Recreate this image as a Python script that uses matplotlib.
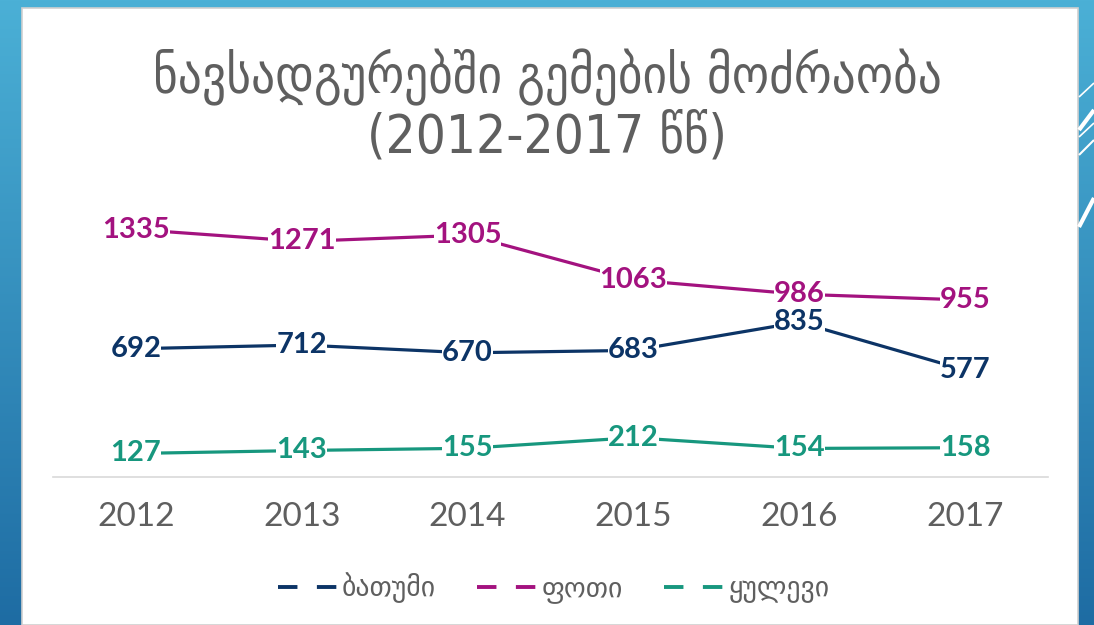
import numpy as np
import matplotlib
matplotlib.use("Agg")
import matplotlib.pyplot as plt
from matplotlib.lines import Line2D
from matplotlib.patches import Rectangle

years = ["2012", "2013", "2014", "2015", "2016", "2017"]
batumi = [692, 712, 670, 683, 835, 577]
poti = [1335, 1271, 1305, 1063, 986, 955]
kulevi = [127, 143, 155, 212, 154, 158]
series_names = ["ბათუმი", "ფოთი", "ყულევი"]
colors = ["#0c3466", "#a3127f", "#17977e"]
title = "ნავსადგურებში გემების მოძრაობა\n(2012-2017 წწ)"

W, H = 1094, 625
fig = plt.figure(figsize=(W / 100, H / 100), dpi=100)

# blue background with gradient
bg = fig.add_axes([0, 0, 1, 1], zorder=0)
grad = np.linspace(0, 1, 256).reshape(-1, 1)
top = np.array([0x4b, 0xb0, 0xd6]) / 255
bot = np.array([0x1e, 0x6c, 0xa3]) / 255
img = top + (bot - top) * grad[:, :, None]
bg.imshow(img, extent=[0, W, 0, H], aspect="auto", origin="upper")
bg.add_patch(Rectangle((22, 0), 1078 - 22, H - 8, fc="white", ec="#d0d0d0", lw=1.2))
for (y0, y1, lw) in [(97, 83, 1.2), (130, 110, 3), (137, 123, 1.2), (155, 140, 1.5), (227, 198, 3)]:
    bg.plot([1079, 1094], [H - y0, H - y1], color="white", lw=lw, solid_capstyle="butt")
bg.set_xlim(0, W)
bg.set_ylim(0, H)
bg.axis("off")

# plot area
ax = fig.add_axes([53 / W, 148 / H, 995 / W, 296.6 / H], zorder=1)
ax.patch.set_alpha(0)
x = np.arange(len(years))
for vals, c in zip([batumi, poti, kulevi], colors):
    ax.plot(x, vals, color=c, lw=2.3, zorder=2)
    for xi, v in zip(x, vals):
        ax.text(xi, v, str(v), ha="center", va="center", color=c,
                fontsize=21, fontweight="bold", family="Lato", zorder=3,
                bbox=dict(fc="white", ec="none", pad=0))
ax.set_xlim(-0.5, 5.5)
ax.set_ylim(0, 1600)
ax.set_xticks(x)
ax.set_xticklabels(years, fontsize=24, color="#5f5f5f", family="Lato")
ax.set_yticks([])
for s in ["top", "left", "right"]:
    ax.spines[s].set_visible(False)
ax.spines["bottom"].set_color("#d9d9d9")
ax.spines["bottom"].set_linewidth(1.2)
ax.tick_params(axis="x", length=0, pad=18)

fig.text(0.5, 1 - 106 / H, title, ha="center", va="center", fontsize=38,
         color="#5f5f5f", family=["DejaVu Sans"], fontstretch="condensed",
         linespacing=1.15)

handles = [Line2D([], [], color=c, lw=2.8, linestyle=(0, (5, 5))) for c in colors]
fig.legend(handles, series_names, loc="center", bbox_to_anchor=(0.506, 1 - 588 / H),
           ncol=3, frameon=False, fontsize=20, handlelength=2.2, handletextpad=0.1,
           columnspacing=1.5, labelcolor="#5f5f5f")

fig.savefig("out.png", dpi=100)
